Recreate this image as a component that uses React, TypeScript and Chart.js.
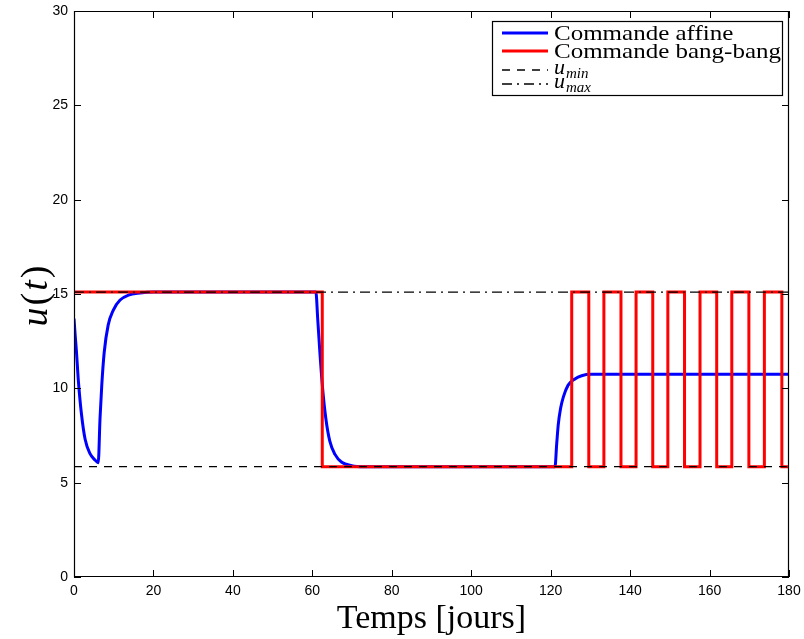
import React, { useEffect, useRef } from "react";
import { Chart, registerables } from "chart.js";

Chart.register(...registerables);

// ---- Data ----
const U_MIN = 5.85;
const U_MAX = 15.1;
const T_START = 0;
const T_END = 180;

// Commande affine
const affineT = [
  0, 0.3, 0.6, 1.1, 1.9, 2.8, 4.0, 5.3, 6.1, 6.55, 7.0, 7.6, 8.6, 9.9, 11.6, 13.7, 16.6, 20, 40, 60.9,
  61.35, 61.9, 62.5, 63.4, 64.4, 65.7, 67.4, 69.9, 73, 100, 121.1,
  121.5, 121.9, 122.5, 123.2, 124.4, 126.1, 127.8, 130.3, 150, 180,
];
const affineU = [
  13.7, 12.8, 12.0, 10.4, 8.6, 7.3, 6.55, 6.2, 6.05, 8.4, 10.2, 11.9, 13.35, 14.15, 14.68, 14.94, 15.05, 15.1, 15.1, 15.1,
  13.7, 11.9, 10.2, 8.4, 7.2, 6.5, 6.08, 5.9, 5.85, 5.85, 5.85,
  7.0, 8.05, 8.94, 9.55, 10.17, 10.5, 10.67, 10.74, 10.75, 10.75,
];

// Commande bang-bang: switching instants and the value reached at each one
const bangT = [
  0, 62.5, 125.3, 129.6, 133.4, 137.7, 141.5, 145.7, 149.5, 153.7, 157.6, 161.8, 165.6, 169.9, 173.8, 178.2, 180,
];
const bangU = [
  15.1, 5.85, 15.1, 5.85, 15.1, 5.85, 15.1, 5.85, 15.1, 5.85, 15.1, 5.85, 15.1, 5.85, 15.1, 5.85, 5.85,
];

const xTicks = [0, 20, 40, 60, 80, 100, 120, 140, 160, 180];
const yTicks = [0, 5, 10, 15, 20, 25, 30];

const legendLabels = ["Commande affine", "Commande bang-bang", "min", "max"];
const xTitle = "Temps [jours]";
const yTitleParts = ["u", "(", "t", ")"];

const zip = (xs: number[], ys: number[]) => xs.map((x, i) => ({ x, y: ys[i] }));

const framePlugin = {
  id: "matlabFrame",
  afterDatasetsDraw(chart: any) {
    const { ctx, chartArea } = chart;
    const { left, right, top, bottom } = chartArea;
    const xs = chart.scales.x;
    const ys = chart.scales.y;
    ctx.save();
    ctx.strokeStyle = "#000";
    ctx.lineWidth = 1.2;
    ctx.setLineDash([]);
    // frame
    ctx.beginPath();
    ctx.rect(left + 0.5, top + 0.5, right - left - 1, bottom - top - 1);
    ctx.stroke();
    const tl = 7;
    ctx.lineWidth = 1;
    ctx.beginPath();
    xTicks.forEach((v) => {
      const px = Math.round(xs.getPixelForValue(v)) + 0.5;
      ctx.moveTo(px, bottom);
      ctx.lineTo(px, bottom - tl);
      ctx.moveTo(px, top);
      ctx.lineTo(px, top + tl);
    });
    yTicks.forEach((v) => {
      const py = Math.round(ys.getPixelForValue(v)) + 0.5;
      ctx.moveTo(left, py);
      ctx.lineTo(left + tl, py);
      ctx.moveTo(right, py);
      ctx.lineTo(right - tl, py);
    });
    ctx.stroke();

    // y title u(t): math italic letters, upright parentheses
    ctx.save();
    ctx.translate(37, 296);
    ctx.rotate(-Math.PI / 2);
    ctx.fillStyle = "#000";
    ctx.textBaseline = "alphabetic";
    ctx.textAlign = "left";
    const fonts = [
      'italic 38px "Liberation Serif"',
      '38px "Liberation Serif"',
      'italic 38px "Liberation Serif"',
      '38px "Liberation Serif"',
    ];
    const gap = 2;
    let total = 0;
    yTitleParts.forEach((p, i) => {
      ctx.font = fonts[i];
      total += ctx.measureText(p).width + (i ? gap : 0);
    });
    let cx = -total / 2;
    yTitleParts.forEach((p, i) => {
      ctx.font = fonts[i];
      ctx.fillText(p, cx, 10);
      cx += ctx.measureText(p).width + gap;
    });
    ctx.restore();

    // legend box
    const bx = 492.5, by = 21.5, bw = 290, bh = 74;
    ctx.lineWidth = 1.2;
    ctx.fillStyle = "#fff";
    ctx.fillRect(bx, by, bw, bh);
    ctx.strokeRect(bx, by, bw, bh);
    const lx0 = 502, lx1 = 548, tx = 554;
    const rows = [33, 51, 70, 84];
    const drawSample = (y: number, color: string, width: number, dash: number[]) => {
      ctx.beginPath();
      ctx.strokeStyle = color;
      ctx.lineWidth = width;
      ctx.setLineDash(dash);
      ctx.moveTo(lx0, y);
      ctx.lineTo(lx1, y);
      ctx.stroke();
    };
    drawSample(rows[0], "#0000ff", 3, []);
    drawSample(rows[1], "#ff0000", 3, []);
    drawSample(rows[2], "#000", 1.3, [8, 7]);
    drawSample(rows[3], "#000", 1.3, [10, 5, 2, 5]);
    ctx.setLineDash([]);
    ctx.fillStyle = "#000";
    ctx.textAlign = "left";
    ctx.textBaseline = "alphabetic";
    ctx.font = '22px "Liberation Serif"';
    const target = 227;
    const sx = target / ctx.measureText(legendLabels[1]).width;
    [0, 1].forEach((i) => {
      ctx.save();
      ctx.translate(tx, rows[i] + 7);
      ctx.scale(sx, 1);
      ctx.fillText(legendLabels[i], 0, 0);
      ctx.restore();
    });
    const drawSub = (y: number, sub: string) => {
      ctx.font = 'italic 22px "Liberation Serif"';
      ctx.fillText("u", tx, y + 4);
      const w = ctx.measureText("u").width;
      ctx.font = 'italic 15px "Liberation Serif"';
      ctx.fillText(sub, tx + w + 1, y + 8);
    };
    drawSub(rows[2], legendLabels[2]);
    drawSub(rows[3], legendLabels[3]);
    ctx.restore();
  },
};

export default function App() {
  const ref = useRef<HTMLCanvasElement | null>(null);
  useEffect(() => {
    if (!ref.current) return;
    const tickFont = { family: '"Liberation Sans", Arial, sans-serif', size: 14 };
    const chart = new Chart(ref.current, {
      type: "line",
      data: {
        datasets: [
          {
            label: "u_min",
            data: zip([T_START, T_END], [U_MIN, U_MIN]),
            borderColor: "#000",
            borderWidth: 1.3,
            borderDash: [8, 7],
            pointRadius: 0,
            order: 0,
          },
          {
            label: "u_max",
            data: zip([T_START, T_END], [U_MAX, U_MAX]),
            borderColor: "#000",
            borderWidth: 1.3,
            borderDash: [10, 5, 2, 5],
            pointRadius: 0,
            order: 1,
          },
          {
            label: "Commande bang-bang",
            data: zip(bangT, bangU),
            borderColor: "#ff0000",
            borderWidth: 3,
            stepped: "before",
            pointRadius: 0,
            order: 2,
          },
          {
            label: "Commande affine",
            data: zip(affineT, affineU),
            borderColor: "#0000ff",
            borderWidth: 3,
            cubicInterpolationMode: "monotone",
            pointRadius: 0,
            order: 3,
          },
        ],
      },
      options: {
        responsive: false,
        animation: false,
        devicePixelRatio: 1,
        layout: { padding: { top: 11, right: 15, left: 0, bottom: 0 } },
        plugins: { legend: { display: false }, tooltip: { enabled: false } },
        scales: {
          x: {
            type: "linear",
            min: 0,
            max: 180,
            afterBuildTicks: (s: any) => {
              s.ticks = xTicks.map((v) => ({ value: v }));
            },
            afterFit: (s: any) => {
              s.height = 62;
              s.paddingLeft = 0;
              s.paddingRight = 0;
            },
            ticks: { font: tickFont, color: "#000", padding: 6, maxRotation: 0 },
            grid: { display: false, drawTicks: false },
            border: { display: false },
            title: {
              display: true,
              text: xTitle,
              font: { family: '"Liberation Serif", serif', size: 34 },
              color: "#000",
              padding: { top: 0, bottom: 0 },
            },
          },
          y: {
            type: "linear",
            min: 0,
            max: 30,
            afterBuildTicks: (s: any) => {
              s.ticks = yTicks.map((v) => ({ value: v }));
            },
            afterFit: (s: any) => {
              s.width = 74;
              s.paddingTop = 0;
              s.paddingBottom = 0;
            },
            ticks: { font: tickFont, color: "#000", padding: 6 },
            grid: { display: false, drawTicks: false },
            border: { display: false },
            title: { display: false },
          },
        },
      },
      plugins: [framePlugin],
    } as any);
    return () => chart.destroy();
  }, []);
  return (
    <div style={{ position: "absolute", left: 0, top: 0, width: 804, height: 639, background: "#fff" }}>
      <canvas ref={ref} width={804} height={639} />
    </div>
  );
}
